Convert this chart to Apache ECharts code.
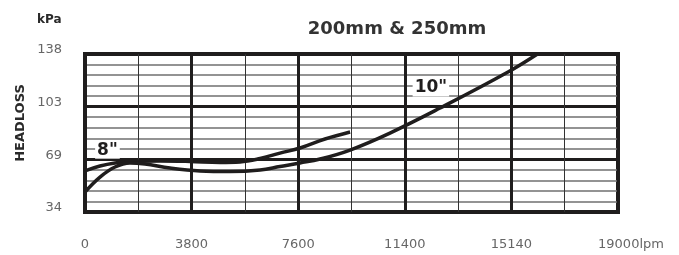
<!DOCTYPE html>
<html>
<head>
<meta charset="utf-8">
<script src="https://cdn.jsdelivr.net/npm/echarts@6/dist/echarts.min.js"></script>
<style>
  html, body { margin: 0; padding: 0; background: #fff; }
  #chart { width: 679px; height: 255px; }
</style>
</head>
<body>
<div id="chart"></div>
<script>
// flow (lpm) / headloss (kPa)
var xTickLabels = ['0', '3800', '7600', '11400', '15140', '19000'];
var yTickLabels = ['34', '69', '103', '138'];

var flow8 = [0, 535, 1070, 1604, 2674, 3743, 4813, 5526, 6240, 6950, 7665, 8556, 9450];
var loss8 = [61.4, 64.6, 66.6, 67.6, 67.9, 67.6, 67.0, 67.3, 69.5, 73.1, 76.4, 82.3, 86.9];

var flow10 = [0, 535, 1070, 1604, 2140, 3030, 4100, 5170, 6240, 6950, 7665, 8380, 9450, 10870, 12660, 15080, 16130];
var loss10 = [47.6, 57.4, 64.0, 66.6, 65.9, 63.3, 61.4, 61.0, 62.0, 64.3, 66.6, 69.2, 75.1, 86.2, 102.6, 126.2, 138];

var labels = [
    { name: '8"', flow: 800, loss: 75 },
    { name: '10"', flow: 12330, loss: 115.7 }
];

function pairs(xs, ys) {
    return xs.map(function (x, i) { return [x, ys[i]]; });
}

var dark = '#1f1d1d';
var font = 'DejaVu Sans';
var chart = echarts.init(document.getElementById('chart'));

var option = {
    animation: false,
    title: {
        text: '200mm & 250mm',
        left: 392,
        top: 15,
        textAlign: 'center',
        textStyle: { fontFamily: font, fontWeight: 'bold', fontSize: 18, color: '#333' }
    },
    graphic: [
        { type: 'text', left: 37, top: 14, style: { text: 'kPa', font: 'bold 12px "DejaVu Sans"', fill: '#2a2a2a' } },
        { type: 'text', x: 21, y: 123, rotation: Math.PI / 2,
          style: { text: 'HEADLOSS', font: 'bold 13px "DejaVu Sans"', fill: '#2a2a2a', align: 'center', verticalAlign: 'middle' } }
    ],
    grid: {
        left: 85, right: 61, top: 54, bottom: 43,
        show: true, borderColor: dark, borderWidth: 4
    },
    xAxis: {
        type: 'value',
        min: 0, max: 19000, interval: 3800,
        axisLine: { show: false },
        axisTick: { show: false },
        splitLine: { show: true, lineStyle: { color: dark, width: 3 } },
        minorTick: { show: false, splitNumber: 2 },
        minorSplitLine: { show: true, lineStyle: { color: '#333', width: 1 } },
        axisLabel: {
            margin: 26,
            fontFamily: font, fontSize: 13, color: '#666',
            formatter: function (v) {
                var i = Math.round(v / 3800);
                if (i === xTickLabels.length - 1) return '{last|' + xTickLabels[i] + 'lpm}';
                return xTickLabels[i];
            },
            rich: { last: { fontFamily: font, fontSize: 13, color: '#666', padding: [0, 0, 0, 26] } }
        }
    },
    yAxis: {
        type: 'value',
        min: 34.5, max: 138, interval: 34.5,
        axisLine: { show: false },
        axisTick: { show: false },
        splitLine: { show: true, lineStyle: { color: dark, width: 3 } },
        minorTick: { show: false, splitNumber: 5 },
        minorSplitLine: { show: true, lineStyle: { color: '#707070', width: 1.5 } },
        axisLabel: {
            margin: 23,
            fontFamily: font, fontSize: 13, color: '#666',
            verticalAlign: 'bottom', lineHeight: 8,
            formatter: function (v) {
                return yTickLabels[Math.round(v / 34.5) - 1];
            }
        }
    },
    series: [
        {
            name: '8"', type: 'line', smooth: 0.4, showSymbol: false,
            lineStyle: { color: dark, width: 3.5 },
            data: pairs(flow8, loss8)
        },
        {
            name: '10"', type: 'line', smooth: 0.4, showSymbol: false,
            lineStyle: { color: dark, width: 3.5 },
            data: pairs(flow10, loss10)
        },
        {
            type: 'scatter', symbolSize: 0, z: 5,
            itemStyle: { opacity: 1 },
            data: labels.map(function (l) { return { value: [l.flow, l.loss], name: l.name }; }),
            label: {
                show: true, position: 'inside',
                formatter: '{b}',
                fontFamily: font, fontWeight: 'bold', fontSize: 17, color: dark,
                backgroundColor: '#fff', padding: [0, 2]
            }
        }
    ]
};

chart.setOption(option);
</script>
</body>
</html>
